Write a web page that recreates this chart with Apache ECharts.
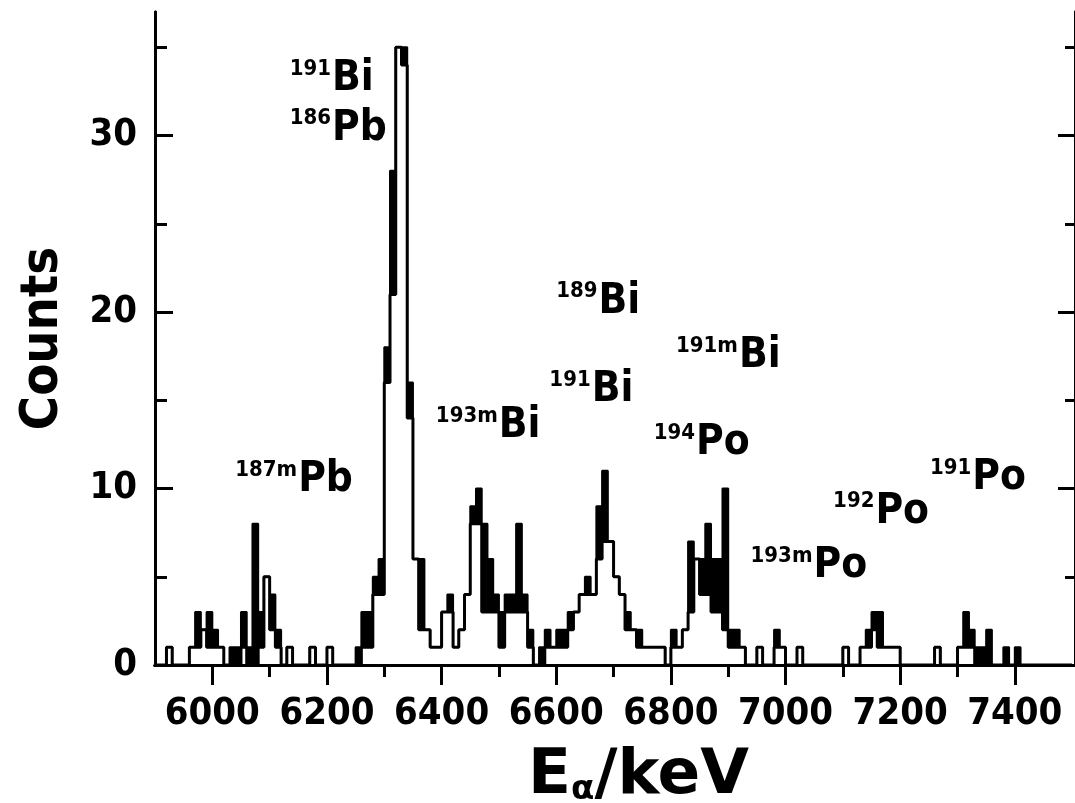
<!DOCTYPE html>
<html><head><meta charset="utf-8">
<script src="https://cdn.jsdelivr.net/npm/echarts@6/dist/echarts.min.js"></script>
<style>html,body{margin:0;padding:0;background:#fff}#c{width:1075px;height:803px}</style>
</head><body><div id="c"></div>
<script>
// 10 keV bins starting at 5900 keV
const binStart = 5900;
const binWidth = 10;
// all events (black filled histogram)
const totalCounts = [
 0,0,1,0,0,0,1,3,2,3,   2,1,0,1,1,3,1,8,3,5,
 4,2,0,1,0,0,0,1,0,0,   1,0,0,0,0,1,3,3,5,6,
 18,28,35,35,16,6,6,2,1,1, 3,4,1,2,4,9,10,8,6,4,
 3,4,4,8,4,2,0,1,2,1,   2,2,3,3,4,5,4,9,11,7,
 5,4,3,2,2,1,1,1,1,0,   2,1,2,7,6,6,8,6,6,10,
 2,2,1,0,0,1,0,0,2,1,   0,0,1,0,0,0,0,0,0,0,
 1,0,0,1,2,3,3,1,1,1,   0,0,0,0,0,0,1,0,0,0,
 1,3,2,1,1,2,0,0,1,0,   1,0,0,0,0,0,0,0,0,0
];
// selected events (white histogram drawn on top)
const subsetCounts = [
 0,0,1,0,0,0,1,1,2,1,   1,1,0,0,0,1,0,0,1,5,
 2,1,0,1,0,0,0,1,0,0,   1,0,0,0,0,0,1,1,4,4,
 16,21,35,34,14,6,2,2,1,1, 3,3,1,2,4,8,8,3,3,3,
 1,3,3,3,3,1,0,0,1,1,   1,1,2,3,4,4,4,6,7,7,
 5,4,2,2,1,1,1,1,1,0,   1,1,2,3,6,4,4,3,3,2,
 1,1,1,0,0,1,0,0,1,1,   0,0,1,0,0,0,0,0,0,0,
 1,0,0,1,1,2,1,1,1,1,   0,0,0,0,0,0,1,0,0,0,
 1,1,1,0,0,0,0,0,0,0,   0,0,0,0,0,0,0,0,0,0
];
const xMajorTicks = [6000,6200,6400,6600,6800,7000,7200,7400];
const xMinorTicks = [6100,6300,6500,6700,6900,7100,7300];
const yMajorTicks = [0,10,20,30];
const yMinorTicks = [5,15,25,35];
// isotope annotations: mass number, element, anchor (keV, counts)
const isotopes = [
 {mass:'191',  el:'Bi', x:6135, y:32.0},
 {mass:'186',  el:'Pb', x:6135, y:29.2},
 {mass:'187m', el:'Pb', x:6040, y:9.3},
 {mass:'193m', el:'Bi', x:6390, y:12.35},
 {mass:'189',  el:'Bi', x:6600, y:19.4},
 {mass:'191',  el:'Bi', x:6588, y:14.4},
 {mass:'191m', el:'Bi', x:6809, y:16.3},
 {mass:'194',  el:'Po', x:6770, y:11.4},
 {mass:'193m', el:'Po', x:6939, y:4.4},
 {mass:'192',  el:'Po', x:7083, y:7.5},
 {mass:'191',  el:'Po', x:7252, y:9.4}
];

function toSteps(counts){
  const pts = counts.map((c,i)=>[binStart+i*binWidth, c]);
  pts.push([binStart+counts.length*binWidth, 0]);
  return pts;
}

const FONT = "'DejaVu Sans Condensed','Liberation Sans Narrow','DejaVu Sans',sans-serif";
const WIDE = "'DejaVu Sans',sans-serif";
const chart = echarts.init(document.getElementById('c'), null, {renderer:'canvas'});
const axisLine = {show:true, lineStyle:{color:'#000', width:3}};
function xAx(pos, opts){
  return Object.assign({type:'value', position:pos, min:5900, max:7505, interval:100, z:10,
    axisLine, splitLine:{show:false}, axisLabel:{show:false}, axisTick:{show:false}}, opts);
}
function yAx(pos, opts){
  return Object.assign({type:'value', position:pos, min:0, max:37, interval:5, z:10,
    axisLine, splitLine:{show:false}, axisLabel:{show:false}, axisTick:{show:false}}, opts);
}
const tick = (vals,len)=>({show:true, inside:true, length:len, customValues:vals, lineStyle:{color:'#000', width:3}});

chart.setOption({
  animation:false,
  backgroundColor:'#fff',
  grid:{left:155, right:-3, top:12, bottom:138, containLabel:false},
  xAxis:[
    xAx('bottom', {axisLabel:{show:true, customValues:xMajorTicks, margin:30, color:'#000',
      formatter:v=>String(v), fontFamily:FONT, fontWeight:'bold', fontSize:38}}),
    xAx('top', {axisTick:tick(xMajorTicks,20)}),
    xAx('top', {axisTick:tick(xMinorTicks,12)})
  ],
  yAxis:[
    yAx('left', {axisTick:tick(yMajorTicks.slice(1),18),
      axisLabel:{show:true, customValues:yMajorTicks, margin:18, color:'#000',
      formatter:v=>String(v), fontFamily:FONT, fontWeight:'bold', fontSize:38},
      name:'Counts', nameLocation:'middle', nameRotate:90, nameGap:86,
      nameTextStyle:{color:'#000', fontFamily:FONT, fontWeight:'bold', fontSize:52}}),
    yAx('left', {axisTick:tick(yMinorTicks,12)}),
    yAx('right', {axisTick:tick(yMajorTicks.slice(1),17)}),
    yAx('right', {axisTick:tick(yMinorTicks,10)})
  ],
  graphic:[{type:'text', left:528, top:745, z:20, style:{
    text:'E{s|α}/keV', fill:'#000', font:'bold 63px '+WIDE,
    rich:{s:{fontSize:34, fontWeight:'bold', fontFamily:WIDE, fill:'#000', padding:[28,0,0,0]}}}}],
  series:[
    {type:'line', step:'end', data:toSteps(totalCounts), symbol:'none', z:2,
     lineStyle:{color:'#000', width:2}, areaStyle:{color:'#000', opacity:1}},
    {type:'line', step:'end', data:toSteps(subsetCounts), symbol:'none', z:3,
     lineStyle:{color:'#000', width:3}, areaStyle:{color:'#fff', opacity:1}},
    {type:'scatter', symbolSize:0, z:5, silent:true, itemStyle:{opacity:1, color:'#000'},
     data:isotopes.map(d=>({value:[d.x,d.y], mass:d.mass, el:d.el})),
     label:{show:true, position:'insideBottomLeft', distance:0, color:'#000', opacity:1,
       formatter:p=>'{m|'+p.data.mass+'}{e|'+p.data.el+'}',
       rich:{m:{fontSize:22, fontFamily:FONT, fontWeight:'bold', color:'#000', verticalAlign:'top', padding:[0,1,20,0]},
             e:{fontSize:42, fontFamily:FONT, fontWeight:'bold', color:'#000', verticalAlign:'bottom'}}}}
  ]
});
</script></body></html>
